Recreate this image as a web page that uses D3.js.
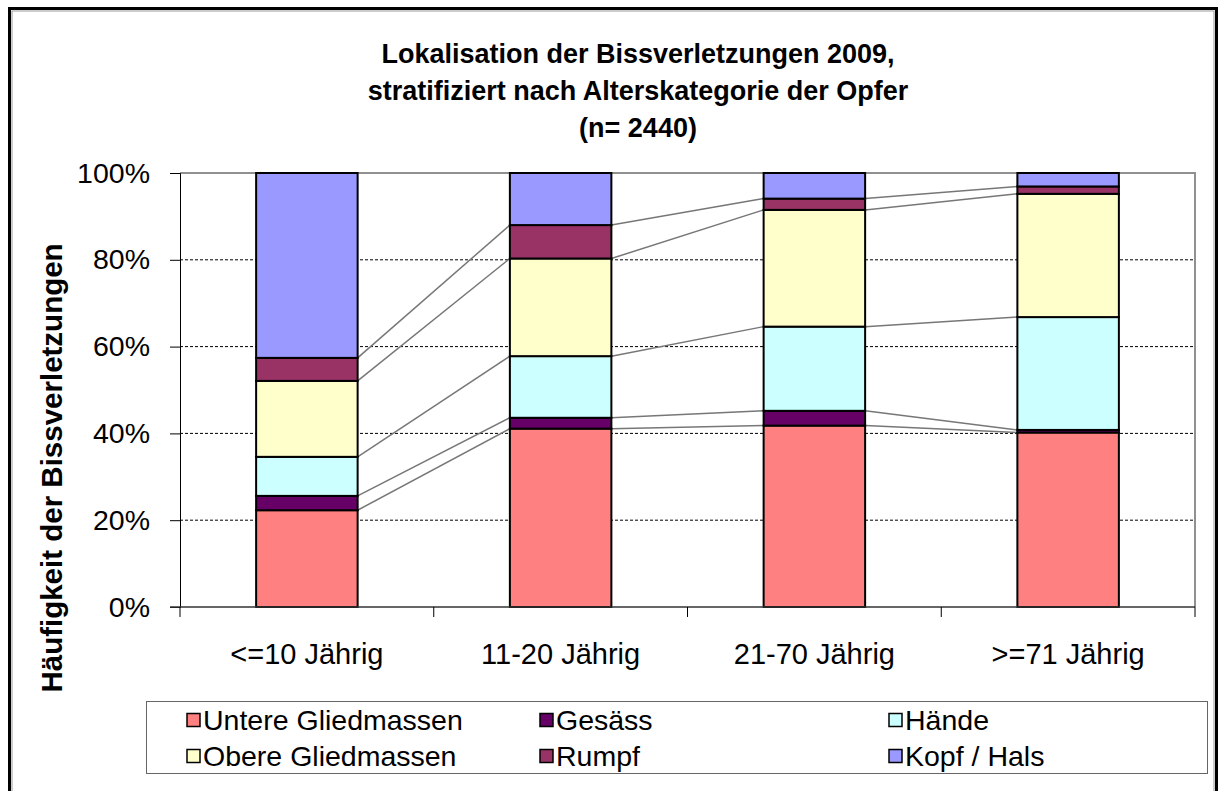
<!DOCTYPE html>
<html>
<head>
<meta charset="utf-8">
<script src="https://cdn.jsdelivr.net/npm/d3@7"></script>
<style>
  body { margin: 0; background: #fff; }
  text { font-family: "Liberation Sans", Arial, sans-serif; }
</style>
</head>
<body>
<svg id="chart" width="1221" height="791"></svg>
<script>
// Werte (Anteile in %)
const categories = ["<=10 Jährig", "11-20 Jährig", "21-70 Jährig", ">=71 Jährig"];
const seriesNames = ["Untere Gliedmassen", "Gesäss", "Hände", "Obere Gliedmassen", "Rumpf", "Kopf / Hals"];
const untere  = [22.3, 41.1, 41.8, 40.2];
const gesaess = [3.3, 2.5, 3.4, 0.6];
const haende  = [9.0, 14.2, 19.4, 26.0];
const obere   = [17.5, 22.5, 26.9, 28.4];
const rumpf   = [5.3, 7.7, 2.6, 1.7];
const kopf    = [42.6, 12.0, 5.9, 3.1];
const yTicks  = [0, 0.2, 0.4, 0.6, 0.8, 1];
const titleLines = [
  "Lokalisation der Bissverletzungen 2009,",
  "stratifiziert nach Alterskategorie der Opfer",
  "(n= 2440)"
];
const colors = ["#ff8080", "#660066", "#ccffff", "#ffffcc", "#993366", "#9999ff"];

const valueArrays = [untere, gesaess, haende, obere, rumpf, kopf];
const rows = categories.map((c, i) => {
  const r = { cat: c };
  seriesNames.forEach((s, j) => r[s] = valueArrays[j][i]);
  return r;
});

const svg = d3.select("#chart");
const plot = { left: 180, right: 1195, top: 173, bottom: 607 };

// Rahmen
svg.append("rect").attr("x", 9.5).attr("y", 8.5).attr("width", 1207).attr("height", 800)
  .attr("fill", "#fff").attr("stroke", "#000").attr("stroke-width", 3);
svg.append("rect").attr("x", 12).attr("y", 11).attr("width", 1202).attr("height", 800)
  .attr("fill", "none").attr("stroke", "#999").attr("stroke-width", 1);

// Titel
svg.append("g").selectAll("text")
  .data(titleLines)
  .join("text")
  .attr("x", 638)
  .attr("y", (d, i) => 63 + i * 37)
  .attr("text-anchor", "middle")
  .attr("font-size", 27)
  .attr("font-weight", "bold")
  .text(d => d);

const x = d3.scaleBand()
  .domain(categories)
  .range([plot.left, plot.right])
  .paddingInner(0.6)
  .paddingOuter(0.3);

const y = d3.scaleLinear()
  .domain([0, 1])
  .range([plot.bottom, plot.top]);

const stack = d3.stack().keys(seriesNames).offset(d3.stackOffsetExpand);
const series = stack(rows);

// Gitterlinien
svg.append("g").selectAll("line")
  .data(yTicks.filter(t => t > 0 && t < 1))
  .join("line")
  .attr("x1", plot.left).attr("x2", plot.right)
  .attr("y1", d => y(d)).attr("y2", d => y(d))
  .attr("stroke", "#000").attr("stroke-width", 1)
  .attr("stroke-dasharray", "3,2");

// Plotrahmen oben / rechts
svg.append("path")
  .attr("d", `M${plot.left},${plot.top}H${plot.right}V${plot.bottom}`)
  .attr("fill", "none").attr("stroke", "#909090").attr("stroke-width", 2);

// Verbindungslinien zwischen den Säulen
const bw = x.bandwidth();
const connectors = [];
series.slice(0, -1).forEach(s => {
  for (let i = 0; i < categories.length - 1; i++) {
    connectors.push({
      x1: x(categories[i]) + bw, y1: y(s[i][1]),
      x2: x(categories[i + 1]), y2: y(s[i + 1][1])
    });
  }
});
svg.append("g").selectAll("line")
  .data(connectors)
  .join("line")
  .attr("x1", d => d.x1).attr("y1", d => d.y1)
  .attr("x2", d => d.x2).attr("y2", d => d.y2)
  .attr("stroke", "#777").attr("stroke-width", 1.5);

// Säulen
svg.append("g").selectAll("g")
  .data(series)
  .join("g")
  .attr("fill", (d, i) => colors[i])
  .selectAll("rect")
  .data(d => d)
  .join("rect")
  .attr("x", (d, i) => x(categories[i]))
  .attr("y", d => y(d[1]))
  .attr("width", bw)
  .attr("height", d => y(d[0]) - y(d[1]))
  .attr("stroke", "#000")
  .attr("stroke-width", 2);

// Y-Achse
const yAxis = svg.append("g")
  .attr("transform", `translate(${plot.left},0)`)
  .call(d3.axisLeft(y).tickValues(yTicks).tickFormat(d3.format(".0%")).tickSize(10).tickPadding(20));
yAxis.selectAll("text").attr("font-size", 28.5).attr("fill", "#000")
  .attr("font-family", "Liberation Sans, Arial, sans-serif");
yAxis.select(".domain").attr("stroke", "#000");

// X-Achse
svg.append("line")
  .attr("x1", plot.left - 10).attr("x2", plot.right)
  .attr("y1", plot.bottom).attr("y2", plot.bottom)
  .attr("stroke", "#333").attr("stroke-width", 1.5);
svg.append("g").selectAll("line")
  .data(d3.range(categories.length + 1))
  .join("line")
  .attr("x1", i => plot.left + i * x.step()).attr("x2", i => plot.left + i * x.step())
  .attr("y1", plot.bottom).attr("y2", plot.bottom + 10)
  .attr("stroke", "#000");
svg.append("g").selectAll("text")
  .data(categories)
  .join("text")
  .attr("x", d => x(d) + bw / 2)
  .attr("y", 664)
  .attr("text-anchor", "middle")
  .attr("font-size", 29)
  .text(d => d);

// Y-Achsentitel
svg.append("text")
  .attr("transform", "translate(62,468) rotate(-90)")
  .attr("text-anchor", "middle")
  .attr("font-size", 29.5)
  .attr("font-weight", "bold")
  .text("Häufigkeit der Bissverletzungen");

// Legende
const legend = svg.append("g");
legend.append("rect")
  .attr("x", 146.5).attr("y", 701.5).attr("width", 1061).attr("height", 72)
  .attr("fill", "#fff").attr("stroke", "#666").attr("stroke-width", 1);
const legendCols = [187, 540, 889];
const item = legend.selectAll("g.item")
  .data(seriesNames)
  .join("g")
  .attr("class", "item")
  .attr("transform", (d, i) => `translate(${legendCols[i % 3]},${i < 3 ? 720 : 756})`);
item.append("rect")
  .attr("x", 0).attr("y", -6.5).attr("width", 13).attr("height", 13)
  .attr("fill", (d, i) => colors[i]).attr("stroke", "#000").attr("stroke-width", 1.5);
item.append("text")
  .attr("x", 16).attr("y", 10)
  .attr("font-size", 28.5)
  .text(d => d);
</script>
</body>
</html>
